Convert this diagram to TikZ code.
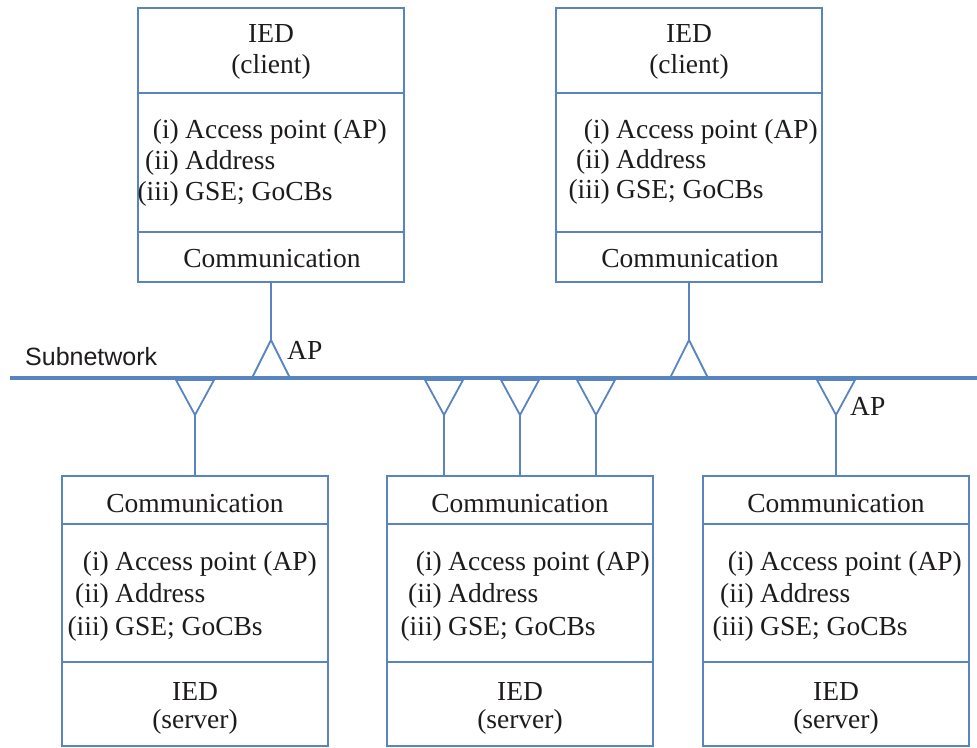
\documentclass[tikz,border=0pt]{standalone}
\usepackage{fontspec}
\setmainfont{Liberation Serif}
\newfontfamily\netsans{Liberation Sans}
\definecolor{netblue}{RGB}{88,133,192}
\definecolor{ink}{RGB}{30,27,28}

% three-line list of an IED's communication data:
% #1 name prefix, #2 right edge of the numbers, #3 left edge of the text,
% #4 baseline of the first line, #5 line step
\newcommand\apitems[5]{%
  \node[txt,anchor=base east] (#1-n1) at (#2,#4) {(i)};
  \node[txt,anchor=base west] (#1-t1) at (#3,#4) {Access point (AP)};
  \node[txt,anchor=base east] (#1-n2) at (#2,{#4+#5}) {(ii)};
  \node[txt,anchor=base west] (#1-t2) at (#3,{#4+#5}) {Address};
  \node[txt,anchor=base east] (#1-n3) at (#2,{#4+2*#5}) {(iii)};
  \node[txt,anchor=base west] (#1-t3) at (#3,{#4+2*#5}) {GSE; GoCBs};
}

\begin{document}
\begin{tikzpicture}[x=1pt,y=-1pt,
  frame/.style={draw=netblue,line width=1.8pt,inner sep=0pt,minimum width=266pt},
  rule/.style={draw=netblue,line width=1.8pt},
  link/.style={draw=netblue,line width=1.8pt,line join=miter},
  bus/.style={draw=netblue,line width=3.2pt},
  txt/.style={text=ink,font=\fontsize{27.5}{31}\selectfont,inner sep=0pt,anchor=base},
]
\useasboundingbox (0,0) rectangle (977,747);

% ---------- client IEDs ----------
\node[frame,minimum height=274pt] (tl) at (271,145) {};
\node[frame,minimum height=274pt] (tr) at (689,145) {};
\foreach \b in {tl,tr} {
  \draw[rule] (\b.west |- 0,93) -- (\b.east |- 0,93);
  \draw[rule] (\b.west |- 0,232) -- (\b.east |- 0,232);
}
\node[txt] (tl-ied) at (271,42) {IED};
\node[txt] (tl-role) at (271,73) {(client)};
\node[txt] (tl-com) at (272,267) {Communication};
\apitems{tl}{179}{185}{138}{31}
\node[txt] (tr-ied) at (689,42) {IED};
\node[txt] (tr-role) at (689,73) {(client)};
\node[txt] (tr-com) at (690,267) {Communication};
\apitems{tr}{610}{616}{138}{30}

% ---------- server IEDs ----------
\node[frame,minimum height=270pt] (bl) at (195,611) {};
\node[frame,minimum height=270pt] (bm) at (520,611) {};
\node[frame,minimum height=270pt] (br) at (836,611) {};
\foreach \b in {bl,bm,br} {
  \draw[rule] (\b.west |- 0,524) -- (\b.east |- 0,524);
  \draw[rule] (\b.west |- 0,662) -- (\b.east |- 0,662);
}
\foreach \b/\x in {bl/195,bm/520,br/836} {
  \node[txt] (\b-com) at (\x,512) {Communication};
  \node[txt] (\b-ied) at (\x,700) {IED};
  \node[txt] (\b-role) at (\x,728) {(server)};
}
\apitems{bl}{109}{115}{570}{32.5}
\apitems{bm}{442}{448}{570}{32.5}
\apitems{br}{754}{760}{570}{32.5}

% ---------- subnetwork ----------
\coordinate (busW) at (10,378);
\coordinate (busE) at (977,378);
\draw[bus] (busW) -- (busE);
\node[text=ink,font=\netsans\fontsize{25}{29}\selectfont,inner sep=0pt,anchor=base west]
  (subnet) at (25,365) {Subnetwork};

% access points of the clients (triangles standing on the bus)
\foreach \n/\x in {tl/271,tr/689} {
  \coordinate (ap-\n) at (\x,340);
  \draw[link] (ap-\n) -- (\x-19,378) -- (\x+19,378) -- cycle;
  \draw[link] (\n.south) -- (ap-\n);
}
% access points of the servers (triangles hanging from the bus)
\foreach \n/\b/\x in {a/bl/195,b/bm/444,c/bm/520,d/bm/596,e/br/836} {
  \coordinate (ap-\n) at (\x,415);
  \draw[link] (ap-\n) -- (\x-19,380) -- (\x+19,380) -- cycle;
  \draw[link] (ap-\n) -- (ap-\n |- \b.north);
}
\node[txt,anchor=base west] (aplab-tl) at (287,359) {AP};
\node[txt,anchor=base west] (aplab-e) at (850,415) {AP};
\end{tikzpicture}
\end{document}
